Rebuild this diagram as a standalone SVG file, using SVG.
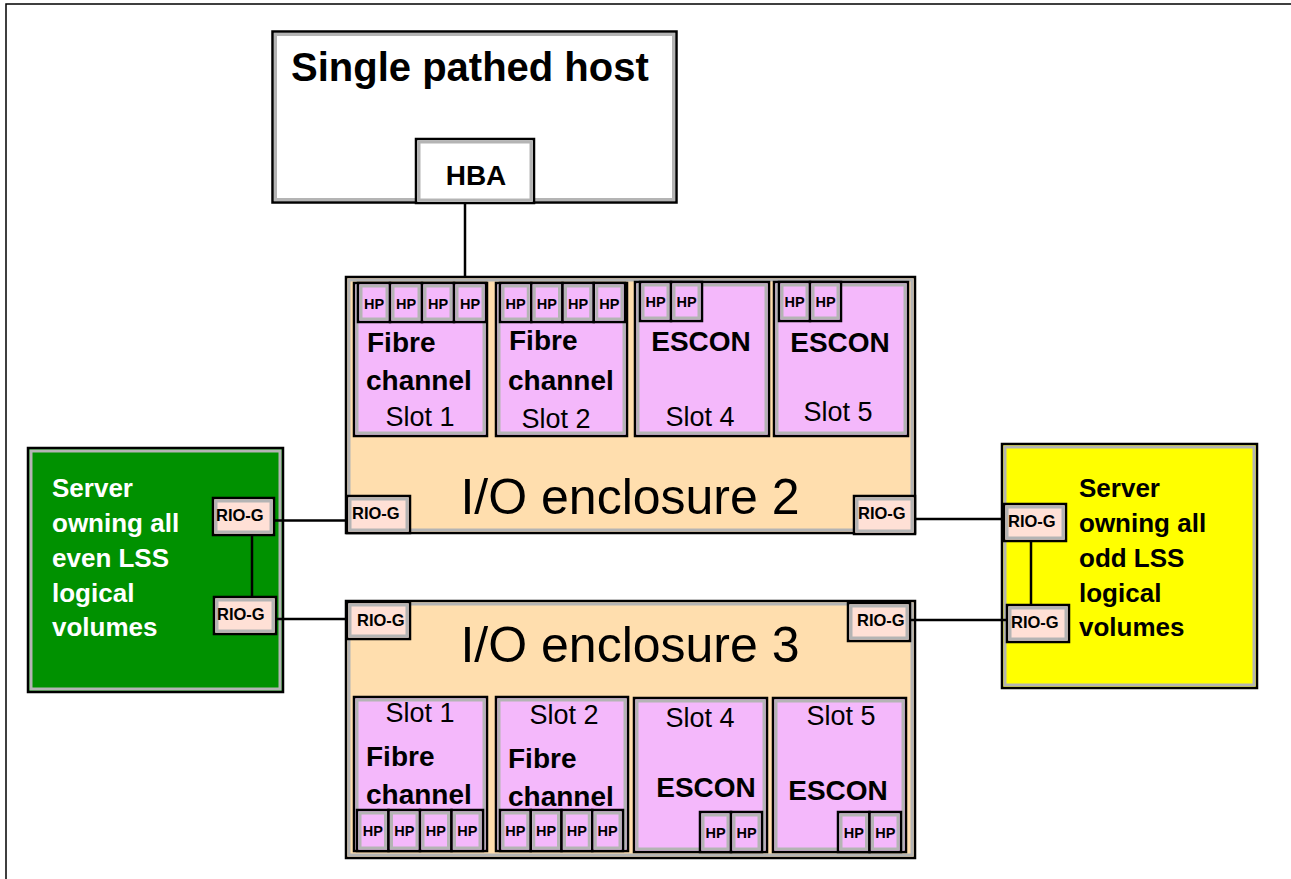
<svg xmlns="http://www.w3.org/2000/svg" width="1291" height="879" viewBox="0 0 1291 879">
<style>
.o{stroke:#000;stroke-width:2.5}
.i{fill:none;stroke:#b4b4b4;stroke-width:3}
.enc{fill:#FFDEAE}
.slot{fill:#F4B8FB}
.rio{fill:#FFE0D6}
.t{font-family:"Liberation Sans",Arial,sans-serif;fill:#000}
.b{font-weight:bold}
.hp{font-family:"Liberation Sans",Arial,sans-serif;font-weight:bold;font-size:14.5px;text-anchor:middle}
.rt{font-family:"Liberation Sans",Arial,sans-serif;font-weight:bold;font-size:16.5px}
.c{stroke:#000;stroke-width:2.5;fill:none}
.m{text-anchor:middle}
</style>
<rect x="0" y="0" width="1291" height="879" fill="#fff"/>
<rect x="6" y="4" width="1300" height="900" fill="none" stroke="#000" stroke-width="1.5"/>

<g id="host">
<rect class="o" x="272.5" y="31.5" width="404" height="171" fill="#fff"/>
<rect class="i" x="275.5" y="34.5" width="398" height="165"/>
<text class="t b" x="291" y="81" font-size="40">Single pathed host</text>
</g>
<g id="hba">
<rect class="o" x="416" y="139" width="118" height="64" fill="#fff"/>
<rect class="i" x="419" y="142" width="112" height="58"/>
<text class="t b m" x="476" y="185" font-size="28">HBA</text>
</g>

<g id="enclosure2">
<rect class="o enc" x="346" y="277" width="569" height="256"/>
<rect class="i" x="349" y="280" width="563" height="250"/>
<text class="t m" x="630" y="514" font-size="50">I/O enclosure 2</text>
<g id="e2slot1">
<rect class="o slot" x="354" y="283" width="133" height="153"/>
<rect class="i" x="357" y="286" width="127" height="147"/>
<g>
<rect class="o slot" x="358" y="283" width="32" height="39"/><rect class="i" x="361" y="286" width="26" height="33"/>
<rect class="o slot" x="390" y="283" width="32" height="39"/><rect class="i" x="393" y="286" width="26" height="33"/>
<rect class="o slot" x="422" y="283" width="32" height="39"/><rect class="i" x="425" y="286" width="26" height="33"/>
<rect class="o slot" x="454" y="283" width="32" height="39"/><rect class="i" x="457" y="286" width="26" height="33"/>
<text class="hp" x="374" y="309">HP</text><text class="hp" x="406" y="309">HP</text><text class="hp" x="438" y="309">HP</text><text class="hp" x="470" y="309">HP</text>
</g>
<text class="t b" x="367" y="352" font-size="28">Fibre</text>
<text class="t b" x="366" y="390" font-size="28">channel</text>
<text class="t m" x="420" y="426" font-size="27">Slot 1</text>
</g>
<g id="e2slot2">
<rect class="o slot" x="496" y="283" width="131" height="153"/>
<rect class="i" x="499" y="286" width="125" height="147"/>
<g>
<rect class="o slot" x="500" y="283" width="31.25" height="39"/><rect class="i" x="503" y="286" width="25.25" height="33"/>
<rect class="o slot" x="531.25" y="283" width="31.25" height="39"/><rect class="i" x="534.25" y="286" width="25.25" height="33"/>
<rect class="o slot" x="562.5" y="283" width="31.25" height="39"/><rect class="i" x="565.5" y="286" width="25.25" height="33"/>
<rect class="o slot" x="593.75" y="283" width="31.25" height="39"/><rect class="i" x="596.75" y="286" width="25.25" height="33"/>
<text class="hp" x="515.6" y="309">HP</text><text class="hp" x="546.9" y="309">HP</text><text class="hp" x="578.1" y="309">HP</text><text class="hp" x="609.4" y="309">HP</text>
</g>
<text class="t b" x="509" y="350" font-size="28">Fibre</text>
<text class="t b" x="508" y="390" font-size="28">channel</text>
<text class="t m" x="556" y="428" font-size="27">Slot 2</text>
</g>
<g id="e2slot4">
<rect class="o slot" x="635" y="282" width="134" height="154"/>
<rect class="i" x="638" y="285" width="128" height="148"/>
<g>
<rect class="o slot" x="640" y="282" width="31" height="39"/><rect class="i" x="643" y="285" width="25" height="33"/>
<rect class="o slot" x="671" y="282" width="31" height="39"/><rect class="i" x="674" y="285" width="25" height="33"/>
<text class="hp" x="655.5" y="307">HP</text><text class="hp" x="686.5" y="307">HP</text>
</g>
<text class="t b m" x="701" y="351" font-size="28">ESCON</text>
<text class="t m" x="700" y="426" font-size="27">Slot 4</text>
</g>
<g id="e2slot5">
<rect class="o slot" x="774" y="282" width="134" height="154"/>
<rect class="i" x="777" y="285" width="128" height="148"/>
<g>
<rect class="o slot" x="779" y="282" width="31" height="39"/><rect class="i" x="782" y="285" width="25" height="33"/>
<rect class="o slot" x="810" y="282" width="31" height="39"/><rect class="i" x="813" y="285" width="25" height="33"/>
<text class="hp" x="794.5" y="307">HP</text><text class="hp" x="825.5" y="307">HP</text>
</g>
<text class="t b m" x="840" y="352" font-size="28">ESCON</text>
<text class="t m" x="838" y="421" font-size="27">Slot 5</text>
</g>
<g id="e2rioL">
<rect class="o rio" x="347" y="496" width="63" height="37"/><rect class="i" x="350" y="499" width="57" height="31"/>
<text class="rt" x="352" y="519">RIO-G</text>
</g>
<g id="e2rioR">
<rect class="o rio" x="854" y="496" width="61" height="38"/><rect class="i" x="857" y="499" width="55" height="32"/>
<text class="rt" x="858" y="519">RIO-G</text>
</g>
</g>

<g id="enclosure3">
<rect class="o enc" x="346" y="601" width="569" height="257"/>
<rect class="i" x="349" y="604" width="563" height="251"/>
<text class="t m" x="630" y="662" font-size="50">I/O enclosure 3</text>
<g id="e3slot1">
<rect class="o slot" x="354" y="697" width="133" height="154"/>
<rect class="i" x="357" y="700" width="127" height="148"/>
<text class="t m" x="420" y="722" font-size="27">Slot 1</text>
<text class="t b" x="366" y="766" font-size="28">Fibre</text>
<text class="t b" x="366" y="804" font-size="28">channel</text>
<g>
<rect class="o slot" x="357" y="810" width="31.5" height="41"/><rect class="i" x="360" y="813" width="25.5" height="35"/>
<rect class="o slot" x="388.5" y="810" width="31.5" height="41"/><rect class="i" x="391.5" y="813" width="25.5" height="35"/>
<rect class="o slot" x="420" y="810" width="31.5" height="41"/><rect class="i" x="423" y="813" width="25.5" height="35"/>
<rect class="o slot" x="451.5" y="810" width="31.5" height="41"/><rect class="i" x="454.5" y="813" width="25.5" height="35"/>
<text class="hp" x="372.8" y="836">HP</text><text class="hp" x="404.3" y="836">HP</text><text class="hp" x="435.8" y="836">HP</text><text class="hp" x="467.3" y="836">HP</text>
</g>
</g>
<g id="e3slot2">
<rect class="o slot" x="496" y="697" width="132" height="154"/>
<rect class="i" x="499" y="700" width="126" height="148"/>
<text class="t m" x="564" y="724" font-size="27">Slot 2</text>
<text class="t b" x="508" y="768" font-size="28">Fibre</text>
<text class="t b" x="508" y="806" font-size="28">channel</text>
<g>
<rect class="o slot" x="500" y="810" width="30.75" height="41"/><rect class="i" x="503" y="813" width="24.75" height="35"/>
<rect class="o slot" x="530.75" y="810" width="30.75" height="41"/><rect class="i" x="533.75" y="813" width="24.75" height="35"/>
<rect class="o slot" x="561.5" y="810" width="30.75" height="41"/><rect class="i" x="564.5" y="813" width="24.75" height="35"/>
<rect class="o slot" x="592.25" y="810" width="30.75" height="41"/><rect class="i" x="595.25" y="813" width="24.75" height="35"/>
<text class="hp" x="515.4" y="836">HP</text><text class="hp" x="546.1" y="836">HP</text><text class="hp" x="576.9" y="836">HP</text><text class="hp" x="607.6" y="836">HP</text>
</g>
</g>
<g id="e3slot4">
<rect class="o slot" x="634" y="698" width="133" height="154"/>
<rect class="i" x="637" y="701" width="127" height="148"/>
<text class="t m" x="700" y="727" font-size="27">Slot 4</text>
<text class="t b m" x="706" y="797" font-size="28">ESCON</text>
<g>
<rect class="o slot" x="700" y="812" width="31" height="40"/><rect class="i" x="703" y="815" width="25" height="34"/>
<rect class="o slot" x="731" y="812" width="31" height="40"/><rect class="i" x="734" y="815" width="25" height="34"/>
<text class="hp" x="715.5" y="838">HP</text><text class="hp" x="746.5" y="838">HP</text>
</g>
</g>
<g id="e3slot5">
<rect class="o slot" x="773" y="698" width="133" height="154"/>
<rect class="i" x="776" y="701" width="127" height="148"/>
<text class="t m" x="841" y="725" font-size="27">Slot 5</text>
<text class="t b m" x="838" y="800" font-size="28">ESCON</text>
<g>
<rect class="o slot" x="838" y="812" width="31.5" height="40"/><rect class="i" x="841" y="815" width="25.5" height="34"/>
<rect class="o slot" x="869.5" y="812" width="31.5" height="40"/><rect class="i" x="872.5" y="815" width="25.5" height="34"/>
<text class="hp" x="853.8" y="838">HP</text><text class="hp" x="885.3" y="838">HP</text>
</g>
</g>
<g id="e3rioL">
<rect class="o rio" x="347" y="602" width="63" height="37"/><rect class="i" x="350" y="605" width="57" height="31"/>
<text class="rt" x="357" y="626">RIO-G</text>
</g>
<g id="e3rioR">
<rect class="o rio" x="848" y="603" width="62" height="38"/><rect class="i" x="851" y="606" width="56" height="32"/>
<text class="rt" x="857" y="626">RIO-G</text>
</g>
</g>

<g id="serverEven">
<rect class="o" x="28" y="448" width="255" height="244" fill="#009100"/>
<rect class="i" x="31" y="451" width="249" height="238"/>
<g class="t b" font-size="26" style="fill:#fff">
<text x="52" y="497">Server</text>
<text x="52" y="532">owning all</text>
<text x="52" y="567">even LSS</text>
<text x="52" y="602">logical</text>
<text x="52" y="636">volumes</text>
</g>
<g id="sEvenRio1">
<rect class="o rio" x="213" y="498" width="61" height="37"/><rect class="i" x="216" y="501" width="55" height="31"/>
<text class="rt" x="216" y="521">RIO-G</text>
</g>
<g id="sEvenRio2">
<rect class="o rio" x="214" y="597" width="62" height="37"/><rect class="i" x="217" y="600" width="56" height="31"/>
<text class="rt" x="217" y="620">RIO-G</text>
</g>
</g>

<g id="serverOdd">
<rect class="o" x="1002" y="444" width="255" height="244" fill="#FFFF00"/>
<rect class="i" x="1005" y="447" width="249" height="238"/>
<g class="t b" font-size="26">
<text x="1079" y="497">Server</text>
<text x="1079" y="532">owning all</text>
<text x="1079" y="567">odd LSS</text>
<text x="1079" y="602">logical</text>
<text x="1079" y="636">volumes</text>
</g>
<g id="sOddRio1">
<rect class="o rio" x="1004" y="504" width="62" height="37"/><rect class="i" x="1007" y="507" width="56" height="31"/>
<text class="rt" x="1008" y="527">RIO-G</text>
</g>
<g id="sOddRio2">
<rect class="o rio" x="1007" y="605" width="62" height="37"/><rect class="i" x="1010" y="608" width="56" height="31"/>
<text class="rt" x="1011" y="628">RIO-G</text>
</g>
</g>

<g id="connectors">
<line class="c" x1="465" y1="204" x2="465" y2="276"/>
<line class="c" x1="275" y1="520.5" x2="346" y2="520.5"/>
<line class="c" x1="277" y1="619" x2="346" y2="619"/>
<line class="c" x1="252" y1="536" x2="252" y2="596"/>
<line class="c" x1="916" y1="519" x2="1003" y2="519"/>
<line class="c" x1="911" y1="620" x2="1006" y2="620"/>
<line class="c" x1="1031" y1="542" x2="1031" y2="604"/>
</g>
</svg>
